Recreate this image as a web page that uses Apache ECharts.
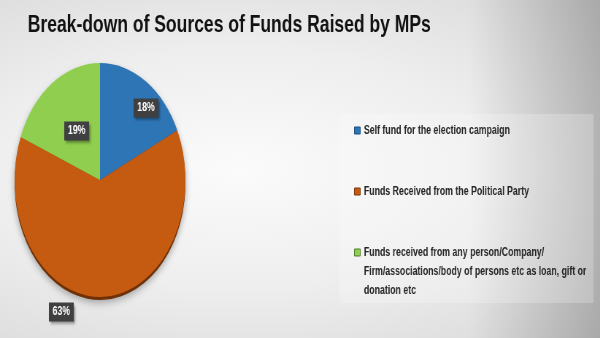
<!DOCTYPE html>
<html>
<head>
<meta charset="utf-8">
<script src="https://cdn.jsdelivr.net/npm/echarts@6/dist/echarts.min.js"></script>
<style>
  html, body { margin: 0; padding: 0; width: 600px; height: 338px; overflow: hidden; }
  body {
    background:
      linear-gradient(to right, rgba(0,0,0,0) 78%, rgba(0,0,0,0.22) 100%),
      radial-gradient(ellipse at 40% 50%, #fbfbfb 0%, #eeeeee 50%, #d8d8d8 100%);
  }
  /* the slide is drawn wide and squeezed horizontally, like the original deck */
  #chart { width: 822px; height: 338px; transform: scaleX(0.73); transform-origin: 0 0; }
</style>
</head>
<body>
<div id="chart"></div>
<script>
const categories = [
  'Self fund for the election campaign',
  'Funds Received from the Political Party',
  'Funds received from any person/Company/Firm/associations/body of persons etc as loan, gift or donation etc'
];
const shares = [18, 63, 19];
const sliceColors = ['#2e75b6', '#c55a11', '#8fce4f'];
const rimColors = ['#1d4e7d', '#6e3006', '#5c8a31'];
const legendBorders = ['#1d4e7d', '#7a3508', '#4f7a2a'];
// legend text split over lines
const legendLines = [
  ['Self fund for the election campaign'],
  ['Funds Received from the Political Party'],
  ['Funds received from any person/Company/', 'Firm/associations/body of persons etc as loan, gift or', 'donation etc']
];

const chart = echarts.init(document.getElementById('chart'), null, { renderer: 'canvas' });

const pieCenter = [137, 180];
const pieRadius = 117;
// label anchor points per slice, in data order (unsqueezed coordinates)
const labelSpots = [[200, 108], [84, 312], [105, 131]];

const sliceData = categories.map((name, i) => ({
  name: name,
  value: shares[i],
  itemStyle: { color: sliceColors[i] }
}));
const rimData = categories.map((name, i) => ({
  name: name,
  value: shares[i],
  itemStyle: { color: rimColors[i] }
}));

// every legend entry is padded to five lines so the marker sits on the first text line
function legendText(name) {
  const lines = legendLines[categories.indexOf(name)].slice();
  while (lines.length < 3) lines.push('');
  return '\n\n' + lines.join('\n');
}

chart.setOption({
  animation: false,
  title: {
    text: 'Break-down of Sources of Funds Raised by MPs',
    left: 33,
    top: 8,
    textStyle: { fontFamily: 'Liberation Sans', fontWeight: 'bold', fontSize: 24, color: '#111111' }
  },
  legend: {
    orient: 'vertical',
    left: 461,
    top: 83,
    height: 800,
    padding: [0, 20, 0, 24],
    itemWidth: 8,
    itemHeight: 7,
    itemGap: -34,
    icon: 'rect',
    selectedMode: false,
    data: categories.map((name, i) => ({
      name: name,
      itemStyle: { borderColor: legendBorders[i], borderWidth: 1 }
    })),
    formatter: legendText,
    textStyle: { fontFamily: 'Liberation Sans', fontWeight: 'bold', fontSize: 12, lineHeight: 19, color: '#262626' }
  },
  series: [
    {
      name: 'Sources',
      type: 'pie',
      z: 3,
      center: pieCenter,
      radius: pieRadius,
      startAngle: 90,
      clockwise: true,
      data: sliceData,
      itemStyle: { borderWidth: 0 },
      label: {
        show: true,
        position: 'inside',
        formatter: '{c}%',
        fontFamily: 'Liberation Sans',
        fontWeight: 'bold',
        fontSize: 12,
        color: '#ffffff',
        backgroundColor: '#404040',
        padding: [4, 5, 3, 5],
        shadowColor: 'rgba(0,0,0,0.45)',
        shadowBlur: 3,
        shadowOffsetX: 2,
        shadowOffsetY: 2
      },
      labelLine: { show: false },
      labelLayout: function (params) {
        const p = labelSpots[params.dataIndex];
        return { x: p[0], y: p[1], align: 'center', verticalAlign: 'middle' };
      },
      emphasis: { disabled: true }
    },
    {
      name: 'Rim',
      type: 'pie',
      z: 2,
      silent: true,
      center: [pieCenter[0], pieCenter[1] + 3],
      radius: pieRadius,
      startAngle: 90,
      clockwise: true,
      data: rimData,
      label: { show: false },
      labelLine: { show: false },
      itemStyle: { shadowColor: 'rgba(0,0,0,0.35)', shadowBlur: 8, shadowOffsetY: 2 },
      emphasis: { disabled: true }
    }
  ],
  graphic: [
    {
      type: 'rect',
      silent: true,
      z: -1,
      shape: { x: 465, y: 114, width: 348, height: 189 },
      style: { fill: 'rgba(255,255,255,0.22)' }
    }
  ]
});
</script>
</body>
</html>
